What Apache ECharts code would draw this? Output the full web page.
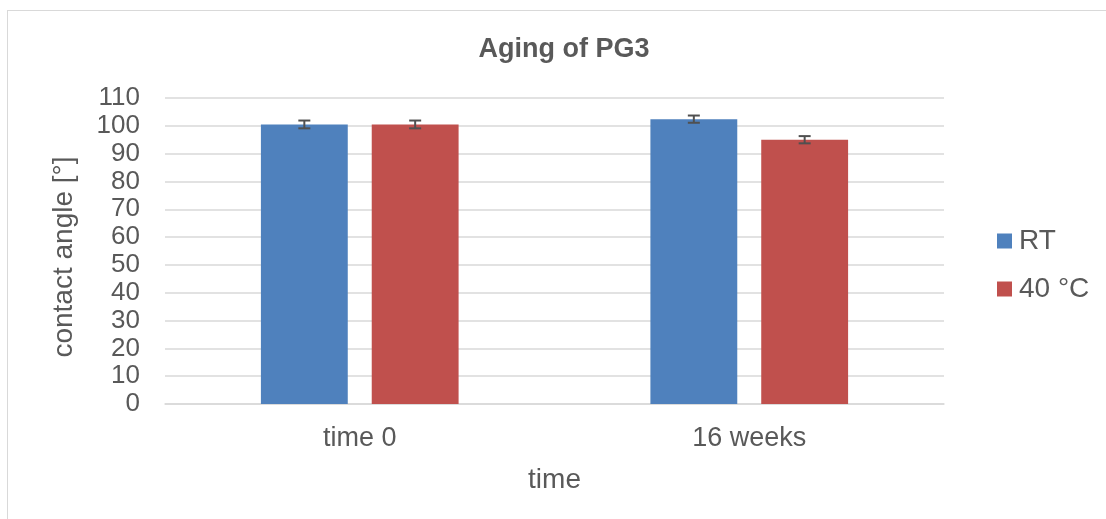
<!DOCTYPE html>
<html>
<head>
<meta charset="utf-8">
<script src="https://cdn.jsdelivr.net/npm/echarts@6/dist/echarts.min.js"></script>
<style>
  html, body { margin: 0; padding: 0; background: #fff; }
  #frame { position: absolute; left: 7px; top: 10px; width: 1100px; height: 515px; border: 1px solid #d9d9d9; box-sizing: border-box; }
  #chart { position: absolute; left: 0; top: 0; width: 1106px; height: 519px; }
</style>
</head>
<body>
<div id="frame"></div>
<div id="chart"></div>
<script>
// Contact angle after aging, mean and standard deviation per condition
const categories = ['time 0', '16 weeks'];
const rtValues = [100.5, 102.4];
const rtErrors = [1.4, 1.3];
const hotValues = [100.5, 95.0];
const hotErrors = [1.4, 1.3];
const yTicks = { min: 0, max: 110, interval: 10 };

const textColor = '#595959';
const font = 'Liberation Sans, Arial, sans-serif';

function errorSeries(name, values, errors, offsetSign) {
  return {
    type: 'custom',
    name: name + ' error',
    z: 10,
    data: values.map((v, i) => [i, v - errors[i], v + errors[i]]),
    renderItem: function (params, api) {
      const idx = api.value(0);
      const lo = api.coord([idx, api.value(1)]);
      const hi = api.coord([idx, api.value(2)]);
      const bandW = api.size([1, 0])[0];
      const barW = bandW * 0.223;
      const gap = barW * 0.276;
      const cx = lo[0] + offsetSign * (barW + gap) / 2;
      const cap = 6;
      const style = { stroke: '#505050', lineWidth: 2 };
      return {
        type: 'group',
        children: [
          { type: 'line', shape: { x1: cx, y1: lo[1], x2: cx, y2: hi[1] }, style: style },
          { type: 'line', shape: { x1: cx - cap, y1: lo[1], x2: cx + cap, y2: lo[1] }, style: style },
          { type: 'line', shape: { x1: cx - cap, y1: hi[1], x2: cx + cap, y2: hi[1] }, style: style }
        ]
      };
    }
  };
}

const chart = echarts.init(document.getElementById('chart'), null, { renderer: 'canvas' });
chart.setOption({
  animation: false,
  title: {
    text: 'Aging of PG3',
    left: 559,
    textAlign: 'center',
    top: 31,
    textStyle: { fontFamily: font, fontSize: 27, fontWeight: 'bold', color: textColor }
  },
  legend: {
    orient: 'vertical',
    left: 992,
    top: 222,
    itemGap: 20,
    itemWidth: 15,
    itemHeight: 15,
    icon: 'rect',
    data: ['RT', '40 °C'],
    textStyle: { fontFamily: font, fontSize: 28, color: textColor, padding: [0, 0, 0, 2] }
  },
  grid: { left: 165, right: 162, top: 98, bottom: 115, containLabel: false },
  xAxis: {
    type: 'category',
    data: categories,
    name: 'time',
    nameLocation: 'middle',
    nameGap: 62,
    nameTextStyle: { fontFamily: font, fontSize: 28, color: textColor },
    axisLine: { lineStyle: { color: '#d9d9d9', width: 1.5 } },
    axisTick: { show: false },
    axisLabel: { fontFamily: font, fontSize: 27, color: textColor, margin: 21 }
  },
  yAxis: {
    type: 'value',
    min: yTicks.min,
    max: yTicks.max,
    interval: yTicks.interval,
    name: 'contact angle [°]',
    nameLocation: 'middle',
    nameGap: 87,
    nameRotate: 90,
    nameTextStyle: { fontFamily: font, fontSize: 28, color: textColor, padding: [0, 12, 0, 0] },
    axisLine: { show: false },
    axisTick: { show: false },
    axisLabel: { fontFamily: font, fontSize: 26, color: textColor, margin: 25 },
    splitLine: { lineStyle: { color: '#d9d9d9', width: 1.5 } }
  },
  series: [
    {
      name: 'RT',
      type: 'bar',
      data: rtValues,
      barWidth: '22.3%',
      barGap: '27.6%',
      itemStyle: { color: '#4f81bd' }
    },
    {
      name: '40 °C',
      type: 'bar',
      data: hotValues,
      barWidth: '22.3%',
      barGap: '27.6%',
      itemStyle: { color: '#c0504d' }
    },
    errorSeries('RT', rtValues, rtErrors, -1),
    errorSeries('40 °C', hotValues, hotErrors, 1)
  ]
});
</script>
</body>
</html>
